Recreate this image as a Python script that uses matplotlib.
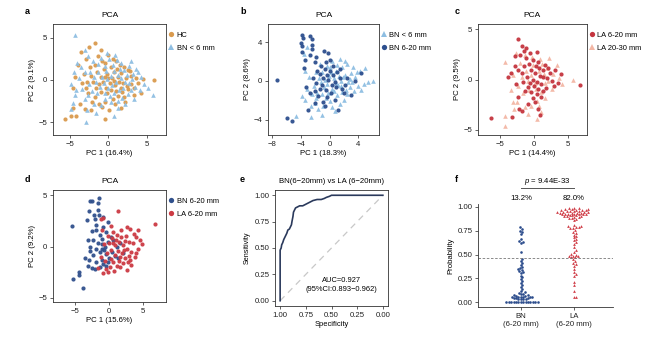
import numpy as np
import matplotlib
matplotlib.use('Agg')
import matplotlib.pyplot as plt
from matplotlib.lines import Line2D

plt.rcParams['font.family'] = ['Liberation Sans', 'DejaVu Sans']
plt.rcParams['mathtext.fontset'] = 'custom'
plt.rcParams['mathtext.it'] = 'Liberation Sans:italic'
plt.rcParams['mathtext.rm'] = 'Liberation Sans'

# ---- colours
c_hc = '#D99A4E'
c_bn6 = '#8EBEE2'
c_bn20 = '#2D4F8E'
c_la20 = '#C4343E'
c_la30 = '#F3B7A5'
c_roc = '#2B3A5C'

# ---- panel a: HC vs BN < 6 mm
a_hc = [(-5.6, -4.6), (-4.9, -4.2), (-4.2, -4.3), (-4.6, -3.3), (-3.7, -2.9), (-3.0, -3.4), (-2.2, -3.5),
        (-0.5, -4.6), (0.1, -3.6), (1.6, -3.3), (2.2, -2.6), (3.4, -1.8), (4.2, -1.6), (5.9, 0.0), (4.5, 0.1),
        (3.6, 0.2), (3.0, 0.5), (2.8, 1.0), (2.0, 1.5), (1.0, 2.2), (0.0, 3.0), (-0.8, 2.2), (-1.4, 2.8),
        (-1.8, 4.3), (-2.5, 3.9), (-3.6, 3.3), (-2.9, 2.5), (-3.9, 1.8), (-2.4, 1.5), (-4.3, 0.3), (-4.6, -0.9),
        (-3.4, -0.4), (-2.9, -0.9), (-2.0, -0.3), (-2.6, -1.6), (-1.8, -2.0), (-1.2, -2.8), (-0.4, -2.6),
        (0.6, -2.3), (1.2, -1.9), (1.8, -1.4), (2.5, -1.1), (2.9, -0.5), (3.3, -0.9), (-1.5, 0.9), (-1.0, 0.4),
        (-0.6, 1.3), (-0.2, 0.7), (0.3, 1.5), (0.8, 0.9), (1.3, 0.4), (1.7, 0.8), (2.3, 0.2), (-1.2, -0.5),
        (-0.7, -0.2), (-0.3, -0.9), (0.2, -0.4), (0.5, 0.2), (0.9, -0.6), (1.4, -0.2), (1.9, -0.4), (2.4, -0.7),
        (-0.9, -1.4), (-0.2, -1.6), (0.4, -1.2), (1.0, -1.3), (1.6, -0.9), (-1.6, -1.0), (-2.2, 0.5), (-1.8, 1.8),
        (-0.5, 2.0), (0.6, 2.5), (1.5, 1.8), (2.6, 1.2), (3.8, -0.4), (-0.1, 0.2), (0.7, -0.1), (-0.4, 0.3),
        (1.1, 1.3), (-2.8, -0.3), (-3.2, 0.7), (-2.1, -2.6), (-0.8, -3.2), (0.9, -2.9), (2.0, -2.0), (-1.0, 3.5)]
a_bn6 = [(-4.4, 5.3), (-3.1, 3.5), (-2.6, 2.8), (-4.1, 2.0), (-3.5, 1.5), (-4.5, 0.9), (-3.8, 0.2), (-4.8, -0.5),
         (-4.2, -1.2), (-4.4, -1.8), (-4.6, -2.7), (-4.8, -3.4), (-3.0, -2.3), (-2.8, -3.6), (-2.9, -5.0),
         (-1.6, -3.9), (-0.9, -3.0), (0.8, -4.2), (0.3, -2.6), (1.2, -2.5), (1.8, -2.1), (2.6, -1.7), (3.0, -1.2),
         (3.5, -0.8), (4.6, -0.5), (5.1, -0.9), (5.8, -1.8), (4.2, 0.3), (3.9, 0.9), (3.6, 1.3), (3.2, 0.7),
         (2.7, 1.6), (2.1, 1.2), (1.6, 2.0), (1.1, 2.4), (0.6, 1.8), (0.1, 2.5), (-0.4, 1.6), (-0.9, 2.6),
         (-1.4, 1.9), (-2.0, 2.2), (-2.4, 0.9), (-1.9, 0.3), (-2.5, -0.5), (-2.1, -1.3), (-1.5, -1.6), (-1.1, -0.8),
         (-0.6, -0.4), (-0.2, 0.1), (0.3, 0.5), (0.7, 1.0), (1.2, 0.6), (1.7, 0.2), (2.2, -0.2), (2.7, -0.4),
         (3.1, 0.1), (2.4, 0.6), (1.9, -0.9), (1.4, -1.2), (0.8, -1.6), (0.2, -1.9), (-0.4, -1.5), (-0.8, 0.4),
         (-1.3, 0.9), (-0.3, 1.1), (0.5, -0.6), (1.0, -0.2), (1.5, 1.3), (0.0, -1.0), (-1.6, -0.2), (-3.0, 0.9),
         (-2.7, -1.8), (-3.4, -1.1), (4.1, -1.2), (3.3, -2.2), (2.2, -2.9), (-0.5, -2.3), (-1.9, -2.8), (0.9, 3.0),
         (-0.2, 3.2), (2.9, 2.2), (1.3, -3.3)]

# ---- panel b: BN < 6 mm vs BN 6-20 mm
b_bn6 = [(-4.7, -3.6), (-2.6, -3.7), (-1.0, -3.5), (0.8, -3.1), (-3.5, -2.0), (-2.5, -1.4), (-3.2, -0.8),
         (-3.9, -1.6), (-2.9, 0.4), (-3.6, 2.8), (-3.2, 3.5), (-1.3, 1.8), (-0.4, 1.6), (0.4, 2.1), (1.1, 1.7),
         (1.8, 1.4), (2.4, 1.8), (3.3, 1.4), (4.3, 1.0), (5.0, 1.3), (5.4, -0.1), (6.0, 0.0), (4.8, -0.3),
         (4.0, -0.5), (3.6, 0.4), (3.0, 0.8), (2.6, -0.1), (2.2, 0.6), (1.6, 0.0), (1.2, -0.4), (0.6, 0.3),
         (0.2, 0.9), (-0.3, -0.3), (-0.8, -0.6), (-1.5, 0.3), (-1.9, 0.9), (-2.2, -0.5), (-1.7, -1.2), (-1.1, -1.4),
         (-0.5, -1.8), (0.1, -2.1), (0.6, -1.0), (1.1, -1.5), (1.7, -1.1), (2.3, -0.9), (2.9, -0.6), (3.4, -1.0),
         (4.4, -0.9), (2.0, -2.0), (1.4, -2.4), (0.4, -2.7), (-0.9, -2.6), (-2.0, -2.3), (-1.6, -2.9), (0.9, 1.0),
         (1.9, 0.4), (2.8, 0.2), (3.8, 0.9), (1.3, 0.5), (-0.1, 0.5), (-1.0, 0.9), (0.3, -0.8), (0.9, -0.2),
         (1.6, -0.5), (2.5, -1.4), (-0.6, 0.1), (-2.6, -2.6), (-3.4, 1.0), (0.0, 1.4), (2.1, 2.1), (3.1, -0.1),
         (-1.2, -0.1), (1.4, 2.3), (-0.2, -1.2), (-1.9, -1.8)]
b_bn20 = [(-7.3, 0.1), (-6.0, -3.8), (-5.3, -4.1), (-3.9, 4.8), (-3.7, 4.5), (-4.0, 3.9), (-3.9, 3.6), (-3.8, 3.0),
          (-3.5, 2.2), (-3.6, 1.3), (-2.7, 4.7), (-2.5, 4.3), (-2.5, 3.7), (-2.4, 3.3), (-2.7, 2.7), (-2.1, 2.0),
          (-1.9, 2.5), (-0.8, 3.1), (-0.2, 2.9), (-0.5, 2.0), (-0.7, 1.2), (0.0, 1.0), (0.5, 0.6), (-0.9, 0.3),
          (-0.2, 0.1), (0.7, -0.1), (-1.4, -0.8), (-0.5, -0.9), (0.2, -1.3), (0.9, -0.6), (1.4, 0.3), (2.1, -0.4),
          (3.0, -1.5), (4.4, 0.8), (-1.6, -1.6), (-0.9, -2.2), (-2.1, -2.3), (-3.0, -3.0), (1.2, -3.0), (-1.9, -0.2),
          (-2.3, 0.3), (-1.2, 1.5), (1.7, -0.8), (0.5, 1.5), (-0.4, 0.6), (0.3, -0.4), (1.0, 0.9), (-1.0, -0.4),
          (-1.3, 0.7), (0.8, -2.0), (-0.3, -1.7), (1.5, 1.2), (2.5, 0.3), (-2.8, -1.2), (-1.7, 1.0), (0.1, 2.2),
          (2.0, -1.2), (-0.6, -2.6), (-3.3, -0.6), (-2.0, -1.0), (3.5, 0.0)]

# ---- panel c: LA 6-20 mm vs LA 20-30 mm
c_la20_pts = [(-2.3, 4.0), (-1.8, 3.3), (-1.1, 3.1), (-0.6, 2.6), (0.5, 2.7), (-2.8, 2.3), (-2.1, 2.4), (-1.1, 2.1),
              (-0.1, 1.9), (0.6, 1.7), (1.6, 1.4), (3.1, 0.9), (4.0, 0.5), (6.7, -0.5), (-3.8, 0.2), (-3.4, 0.6),
              (-2.3, 0.9), (-1.8, 0.6), (-1.4, 1.3), (-0.4, 0.9), (0.2, 0.6), (0.9, 0.3), (0.4, -0.2), (1.1, -0.4),
              (1.9, 0.1), (2.4, 0.6), (2.9, -0.6), (-0.8, -0.7), (-1.3, -1.1), (-0.4, -1.2), (0.4, -1.4), (1.1, -1.7),
              (-2.3, -1.7), (-2.2, -2.9), (-1.8, -3.1), (-0.8, -2.4), (0.2, -2.2), (0.6, -2.9), (0.9, -3.5),
              (-6.3, -3.8), (-3.2, -3.7), (-2.8, 1.3), (1.4, 0.9), (2.6, -0.1), (1.4, -1.1), (-0.2, 0.0), (0.0, -0.6),
              (-1.0, 0.2), (-1.6, -0.2), (0.8, 1.1), (-0.7, 1.5), (1.8, -0.8), (-0.2, -1.8), (-2.6, -0.4), (0.3, 1.3),
              (-1.4, 2.8), (3.6, -0.3), (2.1, 1.1), (-0.5, -0.3), (0.6, -0.9), (1.3, 0.2)]
c_la30_pts = [(-4.3, 1.7), (-2.6, 2.6), (-1.3, 2.4), (-0.3, 2.2), (0.9, 2.0), (1.9, 1.1), (3.4, 1.4), (2.8, 0.5),
              (3.7, 0.1), (4.1, -0.4), (5.8, 0.0), (2.6, -0.9), (1.6, -0.3), (0.7, 0.8), (-0.4, 0.4), (-1.2, 0.8),
              (-2.0, 1.6), (-3.0, 0.4), (-2.3, -0.6), (-1.6, -1.3), (-0.7, -1.0), (0.3, -0.9), (1.0, -1.2),
              (1.6, -1.8), (0.5, -2.1), (-0.4, -2.6), (-1.3, -2.7), (-2.5, -2.2), (-3.1, -2.2), (-4.2, -3.6),
              (-4.3, -4.6), (-0.9, -3.4), (0.4, -3.9), (1.0, -3.2), (-0.1, 1.4), (1.2, 1.5), (-1.8, 0.2), (0.1, -0.3),
              (2.1, -0.1), (-3.4, -1.0), (1.5, 0.5), (-0.9, -0.1), (-2.9, -2.9), (0.8, -2.6), (2.2, 2.1)]

# ---- panel d: BN 6-20 mm vs LA 6-20 mm
d_bn20 = [(-5.5, 2.0), (-2.9, 4.4), (-2.5, 4.4), (-1.5, 4.7), (-1.6, 4.2), (-3.0, 3.5), (-1.7, 3.6), (-1.5, 3.1),
          (-3.3, 2.6), (-2.1, 2.7), (-0.9, 2.9), (-2.0, 2.1), (-0.9, 1.9), (-0.2, 2.4), (-0.4, 1.4), (-1.4, 1.1),
          (-2.4, 0.6), (-2.9, 0.0), (-1.6, 0.3), (-0.6, 0.0), (-1.4, -0.5), (-2.4, -0.8), (-3.0, -1.3), (-1.9, -1.5),
          (-2.6, -2.1), (-1.1, -1.3), (-0.4, -0.7), (0.4, -0.5), (-0.9, -1.7), (-4.5, -2.5), (-4.4, -2.8),
          (-5.3, -3.2), (-3.9, -4.0), (0.6, 0.6), (1.1, 0.0), (-0.1, 0.4), (-1.1, 0.7), (-2.0, -0.2), (-3.1, -1.9),
          (-2.1, -2.2), (-1.3, -2.0), (0.0, -1.1), (0.9, -0.9), (-3.2, 0.6), (-2.6, 1.5), (-1.9, 1.6), (-0.7, -0.3),
          (0.2, 0.9), (1.6, 0.3), (-1.0, -0.2), (-3.6, -1.1), (-2.8, -0.4), (-0.5, -1.9), (1.3, -1.1), (-2.3, 3.1),
          (-1.1, 0.2), (2.0, -0.6), (-0.2, -1.5)]
d_la20 = [(1.3, 3.5), (-1.2, 2.7), (-0.9, 2.8), (3.1, 1.7), (4.2, 1.6), (4.0, 0.9), (4.6, 0.6), (6.8, 2.2), (0.4, 0.8),
          (1.1, 1.1), (1.8, 0.9), (2.3, 0.5), (2.6, -0.2), (3.3, -0.5), (3.8, -1.0), (1.6, -1.0), (2.8, -1.5),
          (0.6, -1.5), (0.1, -2.0), (-0.9, -2.6), (-0.1, -2.5), (1.6, -2.0), (3.3, -1.8), (0.8, 0.1), (0.2, -0.3),
          (1.3, -0.4), (2.0, 0.1), (2.9, 0.4), (3.5, 0.3), (4.3, -0.2), (3.6, 1.2), (2.5, 1.0), (1.5, 0.4), (0.6, 1.4),
          (-0.2, 1.0), (-0.7, 0.2), (-0.3, -0.6), (0.9, -0.8), (1.9, -0.6), (2.4, -1.1), (3.0, -0.9), (1.1, -1.9),
          (2.1, -1.6), (0.3, -1.2), (-0.6, -1.4), (-1.2, -1.0), (-1.6, -2.1), (0.5, 0.3), (1.8, 1.6), (2.7, 1.9),
          (3.9, -0.6), (1.0, 0.6), (2.2, -0.3), (-0.4, -2.2), (4.8, 0.2), (0.0, 0.3), (1.4, -1.4), (3.1, -1.3),
          (2.6, -2.3), (0.7, -2.4), (-1.0, 1.6), (0.3, 2.0)]

# ---- panel e: ROC curve
roc_spec = [1.00, 1.00, 0.99, 0.985, 0.975, 0.965, 0.955, 0.945, 0.935, 0.925, 0.91, 0.90, 0.89, 0.885, 0.875,
            0.87, 0.86, 0.85, 0.83, 0.81, 0.78, 0.76, 0.74, 0.72, 0.70, 0.68, 0.64, 0.60, 0.57, 0.55, 0.52, 0.50, 0.00]
roc_sens = [0.00, 0.48, 0.50, 0.53, 0.55, 0.58, 0.60, 0.62, 0.64, 0.67, 0.68, 0.70, 0.72, 0.75, 0.80,
            0.84, 0.86, 0.88, 0.89, 0.90, 0.90, 0.91, 0.92, 0.93, 0.94, 0.95, 0.96, 0.96, 0.97, 0.98, 0.99, 1.00, 1.00]

# ---- panel f: predicted probabilities
f_bn = [0.79, 0.77, 0.75, 0.74, 0.72, 0.66, 0.64, 0.63, 0.62, 0.53,
        0.45, 0.43, 0.41, 0.39, 0.37, 0.36, 0.35, 0.34, 0.33, 0.32, 0.31, 0.28, 0.26, 0.24,
        0.22, 0.20, 0.18, 0.16, 0.14, 0.12, 0.11, 0.10,
        0.09, 0.09, 0.08, 0.08, 0.07, 0.07, 0.06, 0.06, 0.06, 0.05, 0.05, 0.05,
        0.04, 0.04, 0.04, 0.03, 0.03, 0.03, 0.03,
        0, 0, 0, 0, 0, 0, 0, 0, 0, 0, 0, 0, 0, 0]
f_la = [0.99, 0.99, 0.99, 0.98, 0.98, 0.98, 0.97, 0.97, 0.97, 0.97, 0.96, 0.96, 0.96, 0.96,
        0.95, 0.95, 0.95, 0.95, 0.94, 0.94, 0.94, 0.94, 0.93, 0.93, 0.93, 0.93, 0.92, 0.92, 0.92,
        0.91, 0.91, 0.91, 0.90, 0.90, 0.90, 0.89, 0.89, 0.88, 0.88, 0.87, 0.86,
        0.81, 0.80, 0.80, 0.79, 0.79, 0.78, 0.78, 0.76, 0.74, 0.73,
        0.71, 0.69, 0.68, 0.66, 0.65, 0.63, 0.61, 0.58, 0.55,
        0.53, 0.51, 0.50, 0.49, 0.48, 0.48, 0.47, 0.47,
        0.45, 0.43, 0.41, 0.40, 0.38, 0.35, 0.32, 0.30, 0.28, 0.21, 0.18, 0.12, 0.06, 0.05]
f_cut = 0.46
f_groups = ['BN\n(6-20 mm)', 'LA\n(6-20 mm)']
f_pct = ['13.2%', '82.0%']

W, H = 650, 337
fig = plt.figure(figsize=(6.5, 3.37), dpi=100)


def add_ax(l, t, r, b):
    return fig.add_axes([l / W, 1 - b / H, (r - l) / W, (b - t) / H])


def ftxt(x, y, s, **kw):
    fig.text(x / W, 1 - y / H, s, **kw)


def style(ax, box=True):
    for side, sp in ax.spines.items():
        sp.set_color('#333333')
        sp.set_linewidth(0.6)
        if not box and side in ('top', 'right'):
            sp.set_visible(False)
    ax.tick_params(length=2.5, width=0.5, pad=1.5, labelsize=5.6, colors='#222222')


def legend(ax, items, x=1.02, y=0.93):
    hs = [Line2D([], [], marker=m, color=c, ls='none', markersize=3.8, markeredgewidth=0) for m, c, _ in items]
    ax.legend(hs, [t for _, _, t in items], loc='upper left', bbox_to_anchor=(x, y), frameon=False,
              fontsize=5.4, handlelength=0.8, handletextpad=0.3, borderaxespad=0, borderpad=0,
              labelspacing=0.75)


def pca(ax, groups, xlim, ylim, xt, yt, xl, yl):
    for pts, m, c, s in groups:
        xs = [p[0] for p in pts]
        ys = [p[1] for p in pts]
        ax.scatter(xs, ys, marker=m, c=c, s=s, linewidths=0, alpha=0.95)
    ax.set_xlim(*xlim)
    ax.set_ylim(*ylim)
    ax.set_xticks(xt)
    ax.set_yticks(yt)
    ax.set_xlabel(xl, fontsize=5.6, labelpad=2)
    ax.set_ylabel(yl, fontsize=5.6, labelpad=2)
    ax.set_title('PCA', fontsize=6, pad=5)
    style(ax)


# a
ax = add_ax(53, 24, 166, 135)
pca(ax, [(a_hc, 'o', c_hc, 9), (a_bn6, '^', c_bn6, 11)], (-7.2, 7.5), (-6.5, 6.6), [-5, 0, 5], [-5, 0, 5],
    'PC 1 (16.4%)', 'PC 2 (9.1%)')
legend(ax, [('o', c_hc, 'HC'), ('^', c_bn6, 'BN < 6 mm')])

# b
ax = add_ax(268, 24, 379, 135)
pca(ax, [(b_bn6, '^', c_bn6, 11), (b_bn20, 'o', c_bn20, 9)], (-8.6, 6.9), (-5.6, 5.9), [-8, -4, 0, 4], [-4, 0, 4],
    'PC 1 (18.3%)', 'PC 2 (8.6%)')
legend(ax, [('^', c_bn6, 'BN < 6 mm'), ('o', c_bn20, 'BN 6-20 mm')])

# c
ax = add_ax(478, 24, 587, 135)
pca(ax, [(c_la30_pts, '^', c_la30, 11), (c_la20_pts, 'o', c_la20, 9)], (-8.2, 7.8), (-5.5, 5.5), [-5, 0, 5],
    [-5, 0, 5], 'PC 1 (14.4%)', 'PC 2 (9.5%)')
legend(ax, [('o', c_la20, 'LA 6-20 mm'), ('^', c_la30, 'LA 20-30 mm')])

# d
ax = add_ax(53, 190, 166, 302)
pca(ax, [(d_bn20, 'o', '#30508C', 9), (d_la20, 'o', '#CC3A43', 9)], (-8.3, 8.4), (-5.4, 5.5), [-5, 0, 5],
    [-5, 0, 5], 'PC 1 (15.6%)', 'PC 2 (9.2%)')
legend(ax, [('o', '#30508C', 'BN 6-20 mm'), ('o', '#CC3A43', 'LA 6-20 mm')])

# e
ax = add_ax(275, 190, 388, 306)
ax.plot([1, 0], [0, 1], color='#C8C8C8', lw=0.9, ls=(0, (5, 4)))
ax.plot(roc_spec, roc_sens, color=c_roc, lw=1.2)
ax.set_xlim(1.05, -0.05)
ax.set_ylim(-0.05, 1.05)
tk = [1.0, 0.75, 0.5, 0.25, 0.0]
ax.set_xticks(tk)
ax.set_xticklabels(['%.2f' % t for t in tk])
ax.set_yticks(tk)
ax.set_yticklabels(['%.2f' % t for t in tk])
ax.set_xlabel('Specificity', fontsize=5.4, labelpad=2)
ax.set_ylabel('Sensitivity', fontsize=5.2, labelpad=3)
ax.set_title('BN(6\u221220mm) vs LA (6\u221220mm)', fontsize=5.6, pad=5)
ax.text(0.40, 0.15, 'AUC=0.927\n(95%CI:0.893\u22120.962)', fontsize=5.4, ha='center', va='center',
        linespacing=1.5)
style(ax)


# f
def swarm(vals, d, ys, xs):
    order = np.argsort(vals)
    placed = []
    offs = np.zeros(len(vals))
    for i in order:
        y = vals[i] * ys
        cands = [0.0]
        for px, py in placed:
            dy = abs(py - y)
            if dy < d:
                dx = np.sqrt(d * d - dy * dy)
                cands += [px + dx, px - dx]
        cands.sort(key=abs)
        for c in cands:
            if all((c - px) ** 2 + (y - py) ** 2 >= d * d - 1e-6 for px, py in placed):
                placed.append((c, y))
                offs[i] = c / xs
                break
    return offs


ax = add_ax(478, 204, 613, 307)
yscale = 103 / 1.08
xscale = 53.0
ob = swarm(f_bn, 2.4, yscale, xscale)
ol = swarm(f_la, 2.8, yscale, xscale)
ax.scatter(1 + ob, f_bn, marker='o', s=3.5, c='#2B4C8C', linewidths=0)
ax.scatter(2 + ol, f_la, marker='^', s=4, c='#D0404A', linewidths=0)
ax.axhline(f_cut, color='#777777', lw=0.6, ls=(0, (3, 2)))
ax.set_xlim(0.19, 2.74)
ax.set_ylim(-0.05, 1.03)
ax.set_xticks([1, 2])
ax.set_xticklabels(f_groups)
ax.set_yticks(tk)
ax.set_yticklabels(['%.2f' % t for t in tk])
ax.set_ylabel('Probability', fontsize=5.6, labelpad=2)
style(ax, box=False)
tr = ax.get_xaxis_transform()
for i, t in enumerate(f_pct):
    ax.text(i + 1, 1.058, t, transform=tr, fontsize=5.6, ha='center', va='center')
ax.plot([1, 2], [1.155, 1.155], transform=tr, color='#555555', lw=0.7, clip_on=False)
ax.text(1.5, 1.223, r'$\it{p}$ = 9.44E-33', transform=tr, fontsize=5.6, ha='center', va='center')

# panel letters
for lx, ly, s in [(25, 12, 'a'), (240, 12, 'b'), (455, 12, 'c'), (25, 180, 'd'), (240, 180, 'e'), (455, 179, 'f')]:
    ftxt(lx, ly, s, fontsize=6.5, fontweight='bold', va='center')

fig.savefig('out.png', dpi=100)
